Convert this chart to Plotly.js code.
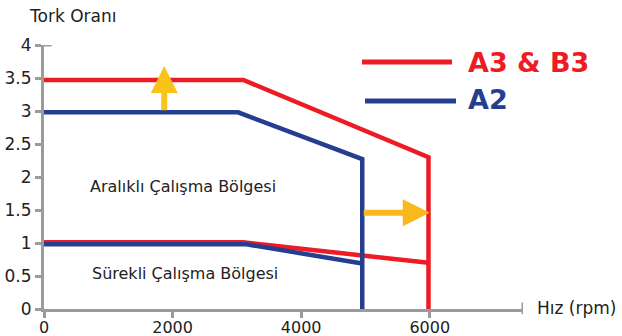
<!DOCTYPE html>
<html><head><meta charset="utf-8">
<script src="https://cdn.plot.ly/plotly-3.0.1.min.js"></script>
<style>html,body{margin:0;padding:0;background:#fff}#c{width:622px;height:336px}</style>
</head><body><div id="c"></div>
<script>
// Data
const redPeakX = [0, 3100, 5980, 5980];
const redPeakY = [3.47, 3.47, 2.30, 0];
const redContX = [0, 3100, 5980];
const redContY = [1.01, 1.01, 0.70];
const bluePeakX = [0, 3020, 4950, 4950];
const bluePeakY = [2.98, 2.98, 2.27, 0];
const blueContX = [0, 3150, 4950];
const blueContY = [0.98, 0.98, 0.69];
const xTicks = [0, 2000, 4000, 6000];
const yTicks = [0, 0.5, 1, 1.5, 2, 2.5, 3, 3.5, 4];
const yTickText = ['0', '0.5', '1', '1.5', '2', '2.5', '3', '3.5', '4'];
const seriesNames = ['A3 & B3', 'A2'];
const regionLabels = ['Aralıklı Çalışma Bölgesi', 'Sürekli Çalışma Bölgesi'];
// arrows: tip (x, y), tail (ax, ay)
const arrowUp = {x: 1870, y: 3.68, ax: 1870, ay: 2.99};
const arrowRight = {x: 6000, y: 1.46, ax: 4950, ay: 1.46};

const RED = '#ED1C24', BLUE = '#263E8F', AX = '#9b9b9b';
const FONT = 'DejaVu Sans, Verdana, sans-serif';
const XMAX = 7450;

const line = (x, y, c) => ({x, y, type: 'scatter', mode: 'lines', line: {color: c, width: 4.5}, hoverinfo: 'skip', showlegend: false});
const traces = [
  line(redContX, redContY, RED),
  line(redPeakX, redPeakY, RED),
  line(blueContX, blueContY, BLUE),
  line(bluePeakX, bluePeakY, BLUE)
];

const arrow = (a, col, w, head, size) => ({x: a.x, y: a.y, ax: a.ax, ay: a.ay, xref: 'x', yref: 'y', axref: 'x', ayref: 'y',
  text: '', showarrow: true, arrowhead: head, arrowsize: size, arrowwidth: w, arrowcolor: col});

const layout = {
  width: 622, height: 336,
  margin: {l: 44, r: 622 - 44 - 479, t: 45, b: 27},
  paper_bgcolor: '#fff', plot_bgcolor: '#fff',
  font: {family: FONT, color: '#222', size: 16},
  xaxis: {range: [0, XMAX], tickvals: xTicks, ticktext: xTicks.map(String), ticks: 'outside', ticklen: 6, tickwidth: 3, tickcolor: AX,
    ticklabelstandoff: -4,
    showline: true, linecolor: AX, linewidth: 3, showgrid: false, zeroline: false, tickfont: {size: 16, color: '#222'}, fixedrange: true},
  yaxis: {range: [0, 4], tickvals: yTicks, ticktext: yTickText, ticks: 'outside', ticklen: 6, tickwidth: 3, tickcolor: AX,
    showline: true, linecolor: AX, linewidth: 3, showgrid: false, zeroline: false, tickfont: {size: 17, color: '#222'}, fixedrange: true},
  showlegend: false,
  shapes: [
    {type: 'line', xref: 'x', yref: 'paper', x0: XMAX, x1: XMAX, y0: -0.02, y1: 0.025, line: {color: AX, width: 3}},
    {type: 'line', xref: 'paper', yref: 'y', x0: -0.013, x1: 0.016, y0: 4, y1: 4, line: {color: AX, width: 3}},
    {type: 'line', xref: 'paper', yref: 'paper', x0: (362-44)/479, x1: (452-44)/479, y0: (309-62)/264, y1: (309-62)/264, line: {color: RED, width: 5}},
    {type: 'line', xref: 'paper', yref: 'paper', x0: (365-44)/479, x1: (456-44)/479, y0: (309-101)/264, y1: (309-101)/264, line: {color: BLUE, width: 5}}
  ],
  annotations: [
    {text: 'Tork Oranı', xref: 'paper', yref: 'paper', x: (27-44)/479, y: (309-16)/264, xanchor: 'left', yanchor: 'middle', showarrow: false, font: {size: 17, color: '#222'}},
    {text: 'Hız (rpm)', xref: 'paper', yref: 'paper', x: (535-44)/479, y: (309-308)/264, xanchor: 'left', yanchor: 'middle', showarrow: false, font: {size: 17, color: '#222'}},
    {text: regionLabels[0], xref: 'x', yref: 'y', x: 2163, y: 1.85, showarrow: false, font: {size: 16, color: '#222'}},
    {text: regionLabels[1], xref: 'x', yref: 'y', x: 2195, y: 0.545, showarrow: false, font: {size: 16, color: '#222'}},
    {text: '<b>' + seriesNames[0].replace('&', '&amp;') + '</b>', xref: 'paper', yref: 'paper', x: (466-44)/479, y: (309-62)/264, xanchor: 'left', yanchor: 'middle', showarrow: false, font: {size: 27, color: RED}},
    {text: '<b>' + seriesNames[1] + '</b>', xref: 'paper', yref: 'paper', x: (466-44)/479, y: (309-99)/264, xanchor: 'left', yanchor: 'middle', showarrow: false, font: {size: 27, color: BLUE}},
    arrow(arrowUp, '#F9C31A', 6, 2, 0.9),
    arrow(arrowRight, '#F9B81E', 6, 2, 0.9)
  ]
};
Plotly.newPlot('c', traces, layout, {staticPlot: true, displayModeBar: false});
</script></body></html>
